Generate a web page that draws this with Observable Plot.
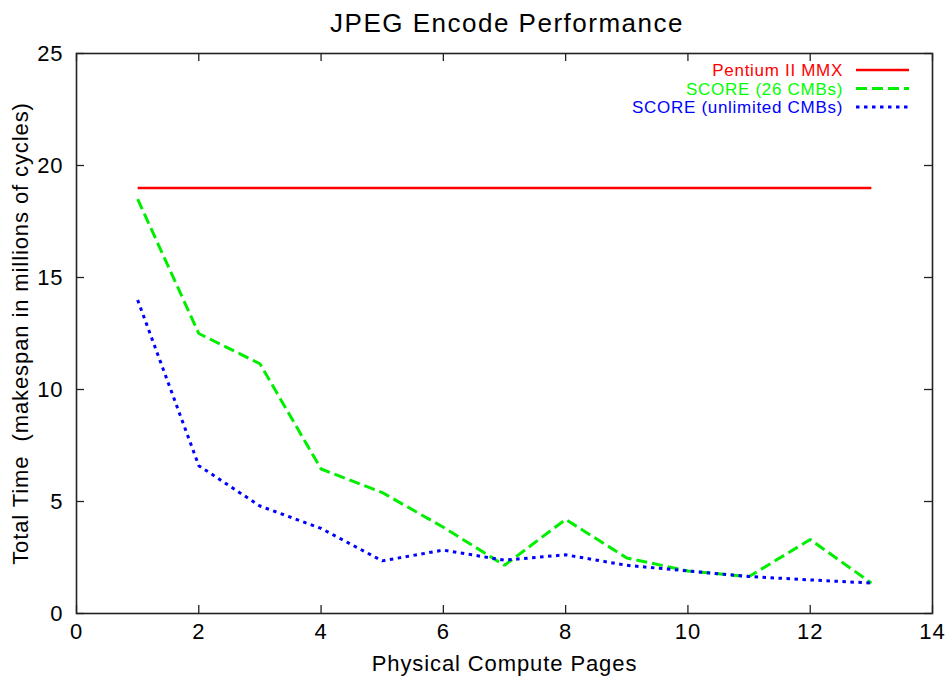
<!DOCTYPE html>
<html><head><meta charset="utf-8">
<script src="https://cdn.jsdelivr.net/npm/d3@7"></script>
<script src="https://cdn.jsdelivr.net/npm/@observablehq/plot@0.6"></script>
<style>
body{margin:0;background:#fff;font-family:"Liberation Sans",Arial,sans-serif;}
#wrap{position:relative;width:952px;height:677px;}
#title{height:40px;box-sizing:content-box;padding:3px 0 0 79px;width:856px;height:37px;line-height:40px;text-align:center;font-size:26px;letter-spacing:1.5px;color:#000;}
#legend{position:absolute;left:0;top:0;pointer-events:none;}
#chart svg{white-space:pre;}
</style></head><body>
<div id="wrap">
<div id="title">JPEG Encode Performance</div>
<div id="chart"></div>
<svg id="legend" width="952" height="677"></svg>
</div>
<script>
const pages = [1, 2, 3, 4, 5, 6, 7, 8, 9, 10, 11, 12, 13];
const pentium = [19, 19, 19, 19, 19, 19, 19, 19, 19, 19, 19, 19, 19];
const score26 = [18.5, 12.5, 11.15, 6.45, 5.4, 3.85, 2.15, 4.2, 2.48, 1.9, 1.65, 3.3, 1.36];
const scoreUnlimited = [14.0, 6.6, 4.8, 3.8, 2.35, 2.83, 2.38, 2.62, 2.15, 1.9, 1.65, 1.5, 1.36];
const seriesNames = ["Pentium II MMX", "SCORE (26 CMBs)", "SCORE (unlimited CMBs)"];
const seriesColors = ["#ff0000", "#00ee00", "#0000ff"];
const seriesDash = [null, "11,5", "3.5,4.5"];
const seriesWidth = [2.5, 3, 3];
const xTicks = [0, 2, 4, 6, 8, 10, 12, 14];
const yTicks = [0, 5, 10, 15, 20, 25];
const xLabel = "Physical Compute Pages";
const yLabel = "Total Time  (makespan in millions of cycles)";

const allSeries = [pentium, score26, scoreUnlimited];
const rows = [];
allSeries.forEach((vals, s) => vals.forEach((v, i) => rows.push({series: seriesNames[s], s, x: pages[i], y: v})));

const mT = 13, mB = 64, mL = 76, mR = 20, W = 952, H = 637;
const frameH = H - mT - mB, frameW = W - mL - mR;
const tick = 8;

const lineMarks = seriesNames.map((name, s) => Plot.line(rows.filter(r => r.s === s), {
  x: "x", y: "y", stroke: seriesColors[s], strokeWidth: seriesWidth[s],
  strokeDasharray: seriesDash[s] || undefined, strokeLinejoin: "miter", strokeLinecap: "butt"
}));

const chart = Plot.plot({
  width: W, height: H,
  marginTop: mT, marginBottom: mB, marginLeft: mL, marginRight: mR,
  style: {fontFamily: "'Liberation Sans', Arial, sans-serif", background: "#fff", color: "#000", overflow: "visible"},
  x: {domain: [0, 14]},
  y: {domain: [0, 25]},
  marks: [
    Plot.ruleX(xTicks, {x: d => d, insetTop: frameH - tick, stroke: "#222", strokeWidth: 1.3}),
    Plot.ruleX(xTicks, {x: d => d, insetBottom: frameH - tick, stroke: "#222", strokeWidth: 1.3}),
    Plot.ruleY(yTicks, {y: d => d, insetRight: frameW - tick, stroke: "#222", strokeWidth: 1.3}),
    Plot.ruleY(yTicks, {y: d => d, insetLeft: frameW - tick, stroke: "#222", strokeWidth: 1.3}),
    ...lineMarks,
    Plot.frame({stroke: "#222", strokeWidth: 1.6}),
    Plot.axisX(xTicks, {anchor: "bottom", tickSize: 0, tickPadding: 10, fontSize: 22, label: null}),
    Plot.axisY(yTicks, {anchor: "left", tickSize: 0, tickPadding: 13, fontSize: 22, label: null}),
    Plot.text([xLabel], {text: d => d, frameAnchor: "bottom", textAnchor: "middle", dy: 50, lineAnchor: "middle", fontSize: 22, fill: "#000"}),
    Plot.text([yLabel], {text: d => d, frameAnchor: "left", textAnchor: "middle", dx: -56, rotate: -90, lineAnchor: "middle", fontSize: 22, fill: "#000"})
  ]
});
chart.style.letterSpacing = "0.9px";
document.getElementById("chart").appendChild(chart);

// legend overlay
const lg = d3.select("#legend");
const rowY = [70, 88.5, 107];
seriesNames.forEach((name, s) => {
  lg.append("text").attr("x", 843).attr("y", rowY[s]).attr("dy", "0.36em")
    .attr("text-anchor", "end").attr("fill", seriesColors[s] === "#00ee00" ? "#00ff00" : seriesColors[s])
    .style("font-family", "'Liberation Sans', Arial, sans-serif").style("font-size", "17px").style("letter-spacing", "0.7px")
    .text(name);
  lg.append("line").attr("x1", 856).attr("x2", 909).attr("y1", rowY[s]).attr("y2", rowY[s])
    .attr("stroke", seriesColors[s]).attr("stroke-width", seriesWidth[s])
    .attr("stroke-dasharray", seriesDash[s]);
});
</script>
</body></html>
